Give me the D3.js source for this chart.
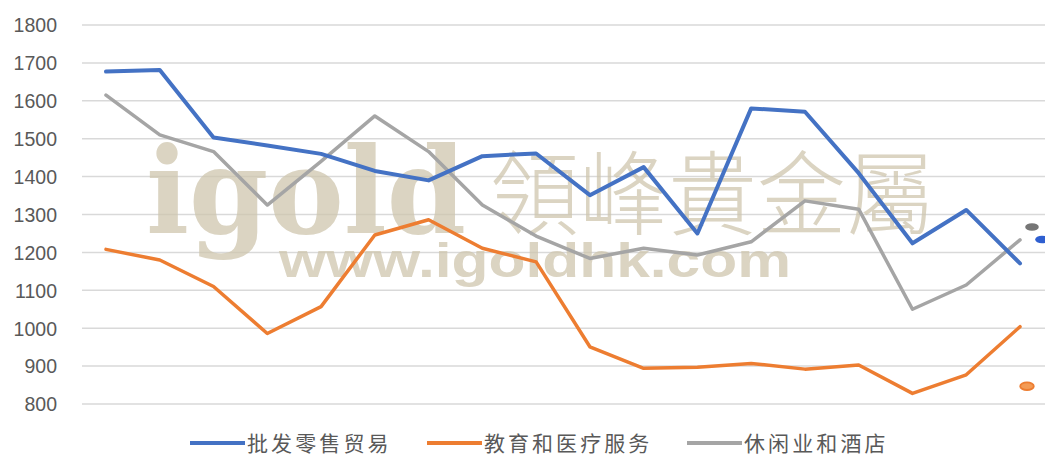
<!DOCTYPE html>
<html><head><meta charset="utf-8">
<script src="https://cdn.jsdelivr.net/npm/d3@7"></script>
<style>html,body{margin:0;padding:0;background:#fff;overflow:hidden}</style>
</head><body>
<svg id="c" width="1045" height="457"></svg>
<script>
const seriesNames = ["批发零售贸易", "教育和医疗服务", "休闲业和酒店"];
const wholesaleRetail = [1677,1681,1503,1482,1460,1415,1390,1454,1461,1351,1425,1250,1580,1571,1409,1224,1312,1171];
const eduHealth = [1208,1180,1110,986,1057,1246,1286,1211,1175,951,894,897,907,892,903,828,877,1004];
const leisureHotel = [1615,1510,1466,1325,1440,1560,1466,1325,1243,1184,1211,1193,1228,1336,1314,1050,1114,1233];
const latestMarkers = [1234, 847, 1267];
const yTicks = [800,900,1000,1100,1200,1300,1400,1500,1600,1700,1800];

const colors = ["#4472C4", "#ED7D31", "#A5A5A5"];
const widths = [4, 3.5, 3.5];
const svg = d3.select("#c");
const x = d3.scaleLinear().domain([0, wholesaleRetail.length - 1]).range([106, 1020]);
const y = d3.scaleLinear().domain([800, 1800]).range([404, 25]);

// gridlines
svg.append("g").selectAll("line").data(yTicks).join("line")
  .attr("x1", 82).attr("x2", 1045)
  .attr("y1", d => y(d)).attr("y2", d => y(d))
  .attr("stroke", "#d9d9d9").attr("stroke-width", 1.5);

// y axis labels
const yAxis = d3.axisLeft(y).tickValues(yTicks).tickSize(0).tickPadding(0).tickFormat(d3.format("d"));
const ga = svg.append("g").attr("transform", "translate(57,0)").call(yAxis);
ga.select(".domain").remove();
ga.selectAll("text").attr("font-family", "Liberation Sans, Arial, sans-serif")
  .attr("font-size", 19.5).attr("fill", "#595959").attr("dy", "0.35em");

// watermark
const wm = svg.append("g").attr("fill", "#cfc6ae").attr("opacity", 0.75);
wm.append("text").text("igold").attr("x", 146).attr("y", 233)
  .attr("font-family", "DejaVu Serif, serif").attr("font-weight", "bold").attr("font-size", 120)
  .attr("textLength", 320).attr("lengthAdjust", "spacingAndGlyphs");
wm.append("text").text("領峰貴金屬").attr("x", 490).attr("y", 187.5)
  .attr("dominant-baseline", "central")
  .attr("font-family", "Noto Sans CJK TC").attr("font-weight", 300).attr("font-size", 92)
  .attr("textLength", 445).attr("lengthAdjust", "spacingAndGlyphs");
wm.append("text").text("www.igoldhk.com").attr("x", 279).attr("y", 277)
  .attr("font-family", "Liberation Sans, Arial, sans-serif").attr("font-weight", "bold").attr("font-size", 48)
  .attr("textLength", 512).attr("lengthAdjust", "spacingAndGlyphs");

// lines
const allSeries = [wholesaleRetail, eduHealth, leisureHotel];
const line = d3.line().x((d, i) => x(i)).y(d => y(d));
const drawOrder = [1, 2, 0];
drawOrder.forEach(k => {
  svg.append("path").datum(allSeries[k]).attr("d", line)
    .attr("fill", "none").attr("stroke", colors[k]).attr("stroke-width", widths[k])
    .attr("stroke-linejoin", "round").attr("stroke-linecap", "round");
});

// latest markers at right edge
const markerOffset = [22, 7, 12];
const markerFill = ["#2f5fd0", "#f39b55", "#767676"];
latestMarkers.forEach((v, k) => {
  svg.append("ellipse")
    .attr("cx", x(wholesaleRetail.length - 1) + markerOffset[k]).attr("cy", y(v))
    .attr("rx", 6.8).attr("ry", 3.8)
    .attr("fill", markerFill[k])
    .attr("stroke", k === 1 ? "#ED7D31" : "none").attr("stroke-width", 1.8);
});

// legend
const legendX = [190, 427, 687];
const lg = svg.append("g");
seriesNames.forEach((n, k) => {
  lg.append("line").attr("x1", legendX[k]).attr("x2", legendX[k] + 55)
    .attr("y1", 443).attr("y2", 443).attr("stroke", colors[k]).attr("stroke-width", 4);
  lg.append("text").text(n).attr("x", legendX[k] + 57).attr("y", 442)
    .attr("dominant-baseline", "central")
    .attr("font-family", "Noto Sans CJK SC").attr("font-size", 21).attr("fill", "#595959")
    .attr("textLength", n.length * 23.6).attr("lengthAdjust", "spacing");
});
</script>
</body></html>
